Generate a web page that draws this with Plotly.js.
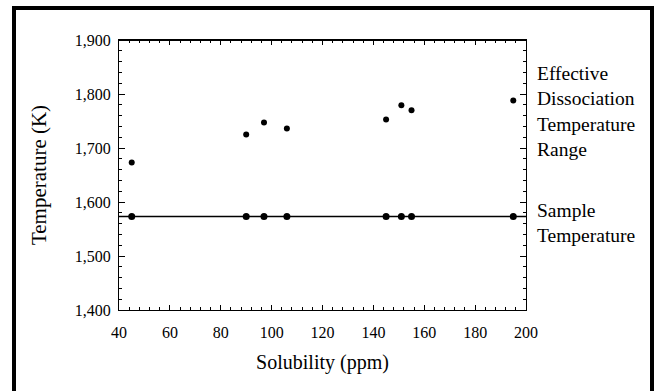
<!DOCTYPE html>
<html><head><meta charset="utf-8">
<script src="https://cdn.plot.ly/plotly-3.0.1.min.js"></script>
<style>html,body{margin:0;padding:0;background:#fff}#chart{width:660px;height:391px}</style>
</head><body><div id="chart"></div>
<script>
const solubility = [45, 90, 97, 106, 145, 151, 155, 195];
const dissociationTemp = [1673, 1725, 1747, 1736, 1753, 1779, 1770, 1788];
const sampleTemp = [1573, 1573, 1573, 1573, 1573, 1573, 1573, 1573];
const lineX = [40, 200];
const lineY = [1573, 1573];
const yTicks = [1400, 1500, 1600, 1700, 1800, 1900];
const xTicks = [40, 60, 80, 100, 120, 140, 160, 180, 200];

const F = "Liberation Serif";
const traces = [
  {x: lineX, y: lineY, mode: 'lines', line: {color: '#000', width: 1.5}, hoverinfo: 'skip', showlegend: false},
  {x: solubility, y: sampleTemp, mode: 'markers', marker: {color: '#000', size: 7, symbol: 'circle'}, showlegend: false},
  {x: solubility, y: dissociationTemp, mode: 'markers', marker: {color: '#000', size: 6, symbol: 'circle'}, showlegend: false}
];
const L = 119, R = 526, T = 40, B = 310;
const px = v => (v - L) / (R - L);
const py = v => (B - v) / (B - T);
const layout = {
  width: 660, height: 391,
  margin: {l: L, r: 660 - R, t: T, b: 391 - B},
  paper_bgcolor: '#fff', plot_bgcolor: '#fff',
  font: {family: F, color: '#000'},
  showlegend: false,
  xaxis: {
    range: [40, 200], tickvals: xTicks, ticktext: xTicks.map(String),
    ticks: 'inside', ticklen: 5, tickwidth: 1, tickcolor: '#000',
    showline: true, linecolor: '#000', linewidth: 1, mirror: 'allticks',
    showgrid: false, zeroline: false, ticklabelstandoff: 8,
    tickfont: {family: F, size: 16, color: '#000'},
    minor: {dtick: 4, ticks: 'inside', ticklen: 3, tickcolor: '#000', showgrid: false},
    title: {text: 'Solubility (ppm)', font: {family: F, size: 20, color: '#000'}, standoff: 14}
  },
  yaxis: {
    range: [1400, 1900], tickvals: yTicks, ticktext: yTicks.map(v => v.toLocaleString('en-US')),
    ticks: 'inside', ticklen: 6, tickwidth: 1, tickcolor: '#000',
    showline: true, linecolor: '#000', linewidth: 1, mirror: 'allticks',
    showgrid: false, zeroline: false, ticklabelstandoff: 4,
    tickfont: {family: F, size: 16, color: '#000'},
    minor: {dtick: 20, ticks: 'inside', ticklen: 3, tickcolor: '#000', showgrid: false},
    title: {text: 'Temperature (K)', font: {family: F, size: 21, color: '#000'}, standoff: 22}
  },
  shapes: [
    {type: 'rect', xref: 'paper', yref: 'paper', x0: px(14), x1: px(652), y0: py(8), y1: py(420),
     line: {color: '#000', width: 4}, fillcolor: 'rgba(0,0,0,0)', layer: 'above'},
    {type: 'line', xref: 'paper', yref: 'paper', x0: 0, x1: 1, y0: 1, y1: 1, line: {color: '#000', width: 2}}
  ],
  annotations: [
    {xref: 'paper', yref: 'paper', x: px(535), y: py(111), xanchor: 'left', yanchor: 'middle', align: 'left',
     text: 'Effective<br>Dissociation<br>Temperature<br>Range', showarrow: false,
     font: {family: F, size: 19.5, color: '#000'}},
    {xref: 'paper', yref: 'paper', x: px(535), y: py(223), xanchor: 'left', yanchor: 'middle', align: 'left',
     text: 'Sample<br>Temperature', showarrow: false,
     font: {family: F, size: 19.5, color: '#000'}}
  ]
};
Plotly.newPlot('chart', traces, layout, {displayModeBar: false, staticPlot: true});
</script></body></html>
